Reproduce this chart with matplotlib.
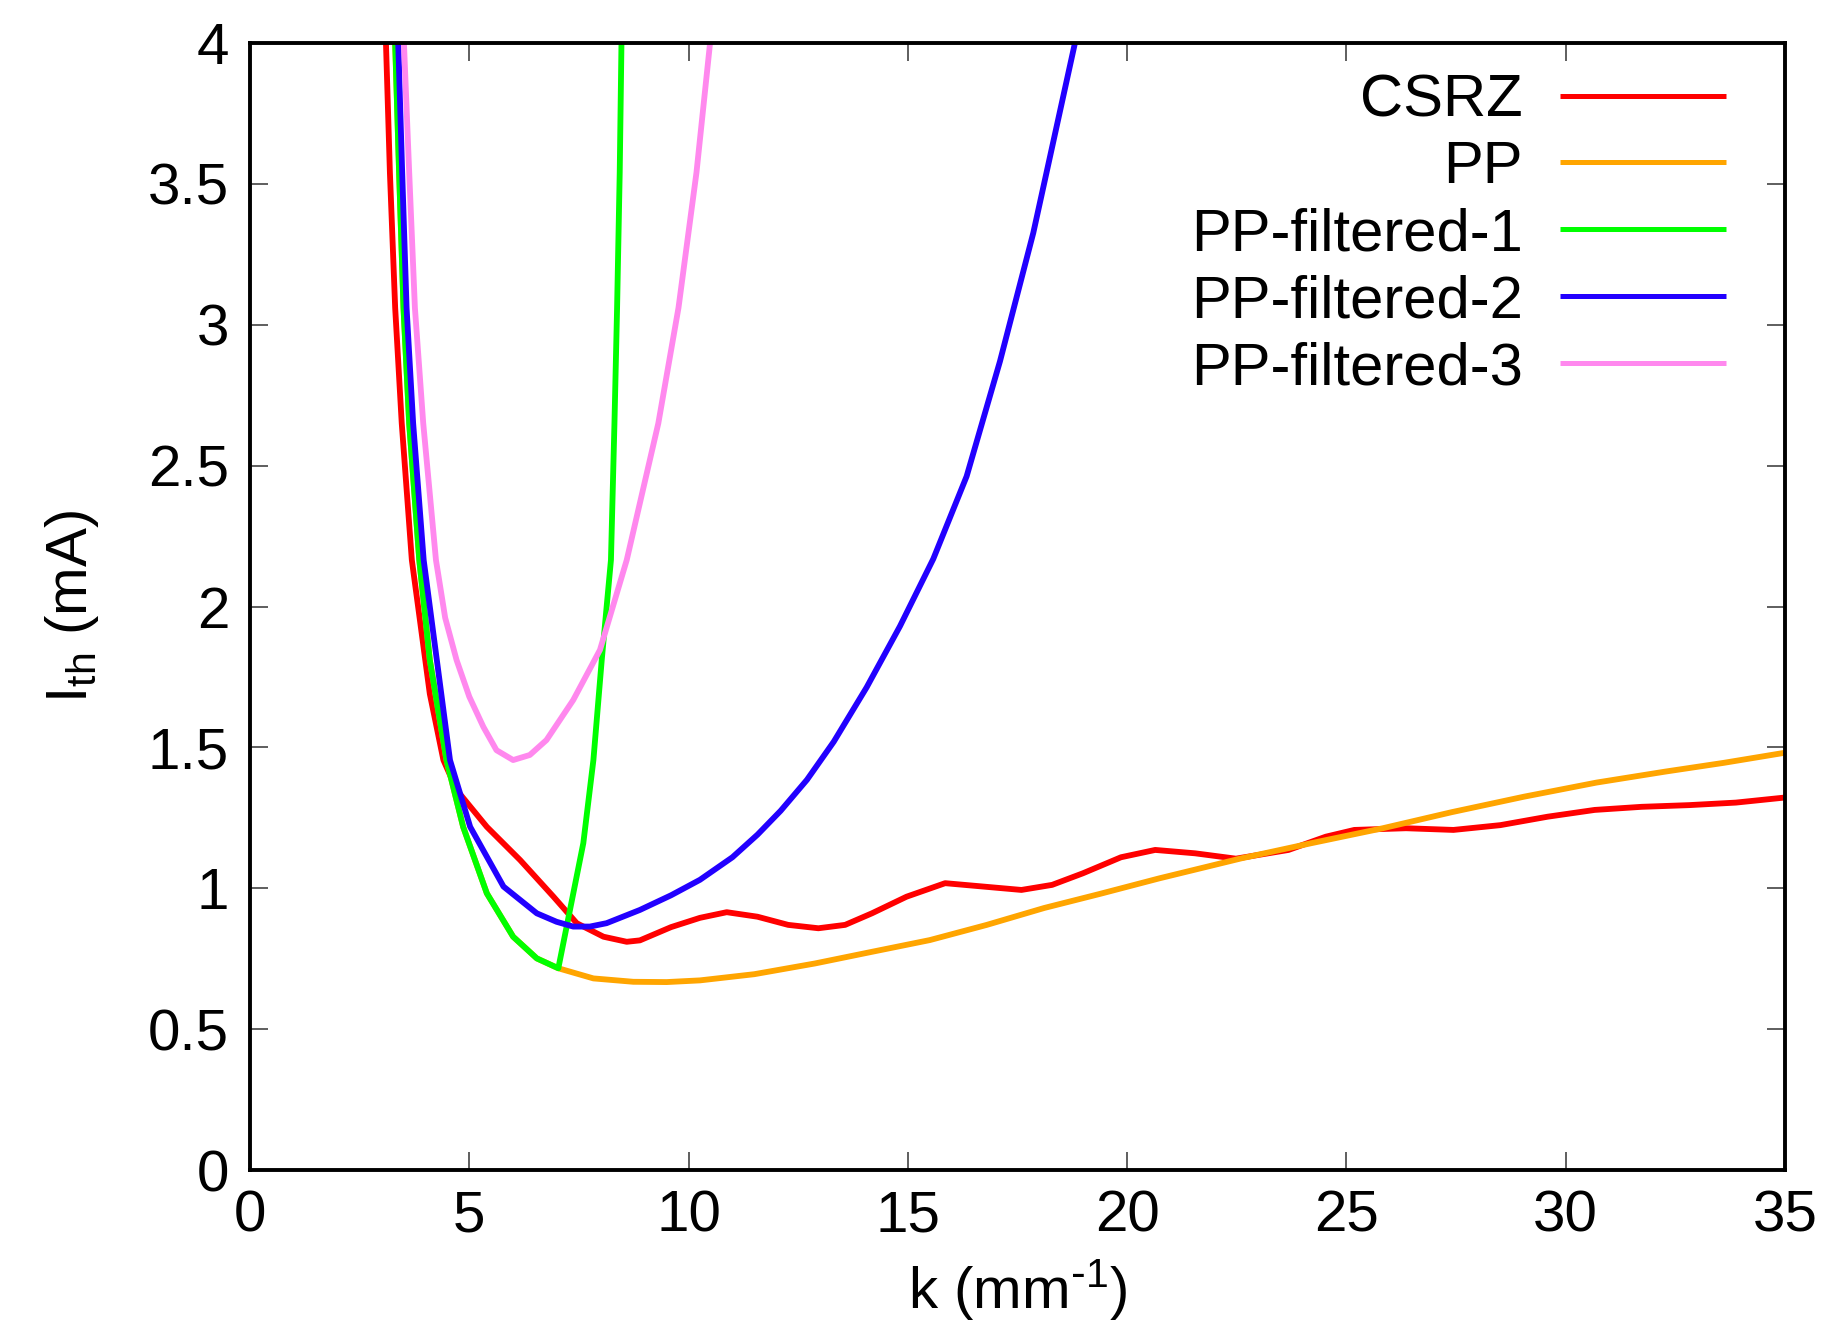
import matplotlib
matplotlib.use("Agg")
import matplotlib.pyplot as plt
from matplotlib.ticker import FormatStrFormatter

plt.rcParams['font.family'] = ['Liberation Sans', 'DejaVu Sans']
plt.rcParams['mathtext.default'] = 'regular'

# ---- data ----
csrz_k = [3.10, 3.19, 3.31, 3.46, 3.69, 3.85, 4.10, 4.41, 4.71, 5.40, 6.16, 6.92, 7.45, 8.06,
          8.59, 8.89, 9.60, 10.26, 10.87, 11.57, 12.27, 12.96, 13.57, 14.18, 14.97, 15.85,
          16.72, 17.59, 18.29, 18.99, 19.86, 20.64, 21.55, 22.48, 23.68, 24.53, 25.18, 26.36,
          27.44, 28.51, 29.59, 30.66, 31.73, 32.81, 33.88, 35.00]
csrz_i = [4.00, 3.54, 3.06, 2.65, 2.165, 1.98, 1.69, 1.455, 1.349, 1.218, 1.10, 0.97, 0.876, 0.828,
          0.81, 0.815, 0.862, 0.895, 0.915, 0.899, 0.870, 0.858, 0.870, 0.911, 0.970, 1.018,
          1.006, 0.994, 1.012, 1.053, 1.110, 1.136, 1.124, 1.105, 1.136, 1.183, 1.207, 1.213,
          1.207, 1.224, 1.254, 1.278, 1.289, 1.295, 1.304, 1.322]

pp_k = [3.31, 3.40, 3.50, 3.63, 3.86, 4.10, 4.48, 4.86, 5.40, 6.00, 6.54, 7.03, 7.83, 8.74,
        9.50, 10.26, 11.50, 12.88, 14.20, 15.50, 16.80, 18.11, 19.38, 20.73, 22.60, 24.20,
        25.83, 27.40, 29.05, 30.70, 32.27, 33.60, 35.00]
pp_i = [4.00, 3.54, 3.06, 2.65, 2.165, 1.81, 1.455, 1.218, 0.982, 0.828, 0.751, 0.716, 0.68, 0.668,
        0.667, 0.673, 0.695, 0.733, 0.775, 0.816, 0.87, 0.93, 0.98, 1.035, 1.106, 1.16,
        1.213, 1.27, 1.325, 1.375, 1.414, 1.445, 1.481]

f1_k = [3.31, 3.40, 3.50, 3.63, 3.86, 4.10, 4.48, 4.86, 5.40, 6.00, 6.54, 7.03,
        7.22, 7.60, 7.83, 8.02, 8.23, 8.31, 8.37, 8.43, 8.47]
f1_i = [4.00, 3.54, 3.06, 2.65, 2.165, 1.81, 1.455, 1.218, 0.982, 0.828, 0.751, 0.716,
        0.864, 1.16, 1.455, 1.81, 2.165, 2.65, 3.06, 3.54, 4.00]

f2_k = [3.38, 3.47, 3.57, 3.72, 3.96, 4.26, 4.56, 5.02, 5.78, 6.54, 6.99, 7.37, 7.75, 8.13,
        8.89, 9.60, 10.26, 11.00, 11.57, 12.10, 12.70, 13.31, 14.06, 14.82, 15.58, 16.34,
        17.10, 17.86, 18.81]
f2_i = [4.00, 3.54, 3.06, 2.65, 2.165, 1.81, 1.455, 1.218, 1.006, 0.911, 0.881, 0.864, 0.864, 0.876,
        0.923, 0.975, 1.03, 1.11, 1.19, 1.275, 1.385, 1.52, 1.713, 1.93, 2.169, 2.462,
        2.87, 3.326, 4.00]

f3_k = [3.51, 3.63, 3.76, 3.95, 4.24, 4.45, 4.71, 5.00, 5.32, 5.62, 6.00, 6.38, 6.76, 7.37,
        7.98, 8.59, 9.31, 9.77, 10.18, 10.49]
f3_i = [4.00, 3.54, 3.06, 2.65, 2.165, 1.96, 1.81, 1.68, 1.573, 1.49, 1.455, 1.473, 1.526, 1.668,
        1.846, 2.165, 2.65, 3.06, 3.54, 4.00]

labels = ['CSRZ', 'PP', 'PP-filtered-1', 'PP-filtered-2', 'PP-filtered-3']
colors = ['#ff0000', '#ffa500', '#00ff00', '#2200ff', '#ff88ee']
x_ticks = [0, 5, 10, 15, 20, 25, 30, 35]
y_ticks = [0, 0.5, 1, 1.5, 2, 2.5, 3, 3.5, 4]

fig = plt.figure(figsize=(18.39, 13.26), dpi=100)
ax = fig.add_axes([250/1839, 1-1170/1326, 1535/1839, 1127/1326])

series = [(csrz_k, csrz_i), (pp_k, pp_i), (f1_k, f1_i), (f2_k, f2_i), (f3_k, f3_i)]
for (k, i), lab, c in zip(series, labels, colors):
    ax.plot(k, i, color=c, lw=4.2, label=lab, solid_joinstyle='round', solid_capstyle='butt')

ax.set_xlim(0, 35)
ax.set_ylim(0, 4)
ax.set_xticks(x_ticks)
ax.set_yticks(y_ticks)
ax.yaxis.set_major_formatter(FormatStrFormatter('%g'))
ax.tick_params(direction='in', length=13, width=1.1, color='#333333',
               top=True, right=True, labelsize=42)
ax.tick_params(axis='x', pad=14)
ax.tick_params(axis='y', pad=15)
for s in ax.spines.values():
    s.set_linewidth(2.8)

ax.set_xlabel(r'k (mm$^{\text{-}1}$)', fontsize=42)
ax.set_ylabel(r'I$_{th}$ (mA)', fontsize=42)
ax.xaxis.set_label_coords(0.5, -0.077)
ax.yaxis.set_label_coords(-0.097, 0.5)

leg = ax.legend(loc='upper right', bbox_to_anchor=(0.9616, 0.973), frameon=False,
                markerfirst=False, fontsize=43, handlelength=2.78, handletextpad=0.62,
                labelspacing=0.2, borderaxespad=0, borderpad=0)
for line in leg.get_lines():
    line.set_linewidth(3.6)

fig.savefig('out.png', dpi=100)
